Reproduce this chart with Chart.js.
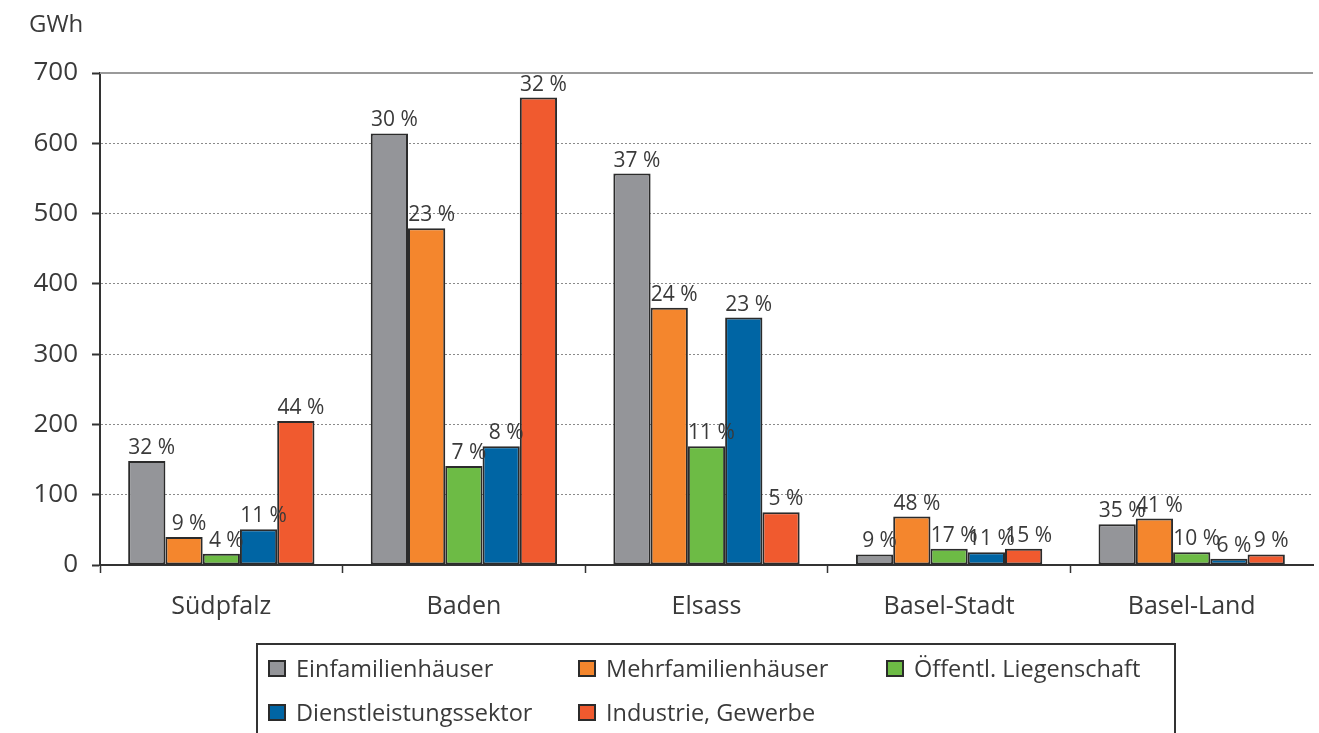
<!DOCTYPE html>
<html><head><meta charset="utf-8">
<script src="https://cdn.jsdelivr.net/npm/chart.js@4"></script>
<style>html,body{margin:0;padding:0;background:#fff;overflow:hidden}#wrap{position:relative;width:1319px;height:733px}</style>
</head><body><div id="wrap"><canvas id="c" width="1319" height="733"></canvas></div>
<script>
const categories = ['Südpfalz', 'Baden', 'Elsass', 'Basel-Stadt', 'Basel-Land'];
const seriesNames = ['Einfamilienhäuser', 'Mehrfamilienhäuser', 'Öffentl. Liegenschaft', 'Dienstleistungssektor', 'Industrie, Gewerbe'];
const einfamilien = [148, 614, 557, 15, 58];
const mehrfamilien = [40, 479, 366, 69, 66];
const oeffentl = [16, 141, 169, 23, 18];
const dienstleistung = [51, 169, 352, 18, 9];
const industrie = [205, 665, 75, 23, 15];
const pctEinfamilien = [32, 30, 37, 9, 35];
const pctMehrfamilien = [9, 23, 24, 48, 41];
const pctOeffentl = [4, 7, 11, 17, 10];
const pctDienstleistung = [11, 8, 23, 11, 6];
const pctIndustrie = [44, 32, 5, 15, 9];
const yTickValues = [0, 100, 200, 300, 400, 500, 600, 700];
const unitLabel = 'GWh';
const colors = ['#949599', '#f4862d', '#6dbb45', '#0065a4', '#f05a2f'];

const values = [einfamilien, mehrfamilien, oeffentl, dienstleistung, industrie];
const pcts = [pctEinfamilien, pctMehrfamilien, pctOeffentl, pctDienstleistung, pctIndustrie];
const FONT = '"Open Sans", "Noto Sans", sans-serif';
const TEXT = '#3a3a3a';

const labelPlugin = {
  id: 'pctLabels',
  afterDatasetsDraw(chart) {
    const ctx = chart.ctx;
    ctx.save();
    ctx.font = '21px ' + FONT;
    ctx.fillStyle = TEXT;
    ctx.textAlign = 'center';
    ctx.textBaseline = 'alphabetic';
    chart.data.datasets.forEach((ds, di) => {
      const meta = chart.getDatasetMeta(di);
      meta.data.forEach((el, i) => {
        ctx.fillText(pcts[di][i] + ' %', el.x + 5, el.y - 7);
      });
    });
    ctx.restore();
  }
};

const extrasPlugin = {
  id: 'extras',
  afterDraw(chart) {
    const ctx = chart.ctx;
    ctx.save();
    ctx.font = '24px ' + FONT;
    ctx.fillStyle = TEXT;
    ctx.textAlign = 'left';
    ctx.textBaseline = 'alphabetic';
    ctx.fillText(unitLabel, 29, 32);
    const ys = chart.scales.y;
    const ytop = ys.getPixelForValue(yTickValues[yTickValues.length - 1]);
    ctx.strokeStyle = '#9a9a9a';
    ctx.lineWidth = 2;
    ctx.beginPath();
    ctx.moveTo(chart.chartArea.left, ytop);
    ctx.lineTo(chart.chartArea.right, ytop);
    ctx.stroke();
    ctx.strokeStyle = '#333';
    ctx.lineWidth = 2;
    ctx.beginPath();
    ctx.moveTo(257, 740);
    ctx.lineTo(257, 644);
    ctx.lineTo(1175, 644);
    ctx.lineTo(1175, 740);
    ctx.stroke();
    const cols = [268, 578, 886];
    const rows = [677, 721];
    ctx.font = '23.5px ' + FONT;
    seriesNames.forEach((name, i) => {
      const x = cols[i % 3];
      const yb = rows[Math.floor(i / 3)];
      ctx.fillStyle = colors[i];
      ctx.fillRect(x, yb - 17, 18, 17);
      ctx.strokeStyle = '#2b2b2b';
      ctx.lineWidth = 2;
      ctx.strokeRect(x + 1, yb - 16, 16, 15);
      ctx.fillStyle = TEXT;
      ctx.fillText(name, x + 28, yb);
    });
    ctx.restore();
  }
};

new Chart(document.getElementById('c'), {
  type: 'bar',
  data: {
    labels: categories,
    datasets: seriesNames.map((n, i) => ({
      label: n,
      data: values[i],
      backgroundColor: colors[i],
      borderColor: '#2b2b2b',
      borderWidth: 2,
      borderSkipped: false,
      categoryPercentage: 0.768,
      barPercentage: 1.0
    }))
  },
  options: {
    responsive: false,
    animation: false,
    devicePixelRatio: 1,
    layout: { padding: { top: 73, right: 6, left: 0, bottom: 0 } },
    plugins: { legend: { display: false }, tooltip: { enabled: false } },
    scales: {
      x: {
        afterFit(s) { s.height = 168; },
        grid: {
          display: true, drawOnChartArea: false, drawTicks: true, tickLength: 8,
          tickColor: c => c.tick ? '#333' : 'rgba(0,0,0,0)', tickWidth: 1.5, offset: true
        },
        border: { display: true, color: '#333', width: 2 },
        ticks: { font: { family: FONT, size: 25 }, color: TEXT, padding: 19 }
      },
      y: {
        min: 0, max: 700,
        afterFit(s) { s.width = 100; },
        afterBuildTicks(s) { s.ticks = yTickValues.map(v => ({ value: v })); },
        grid: {
          color: ctx => (ctx.tick && ctx.tick.value === 700) ? 'rgba(0,0,0,0)' : '#8a8a8a',
          lineWidth: 1,
          tickColor: '#333', tickWidth: 2, tickLength: 8
        },
        border: { display: true, color: '#333', width: 2, dash: [2, 2] },
        ticks: { font: { family: FONT, size: 26 }, color: TEXT, padding: 14 }
      }
    }
  },
  plugins: [labelPlugin, extrasPlugin]
});
</script></body></html>
